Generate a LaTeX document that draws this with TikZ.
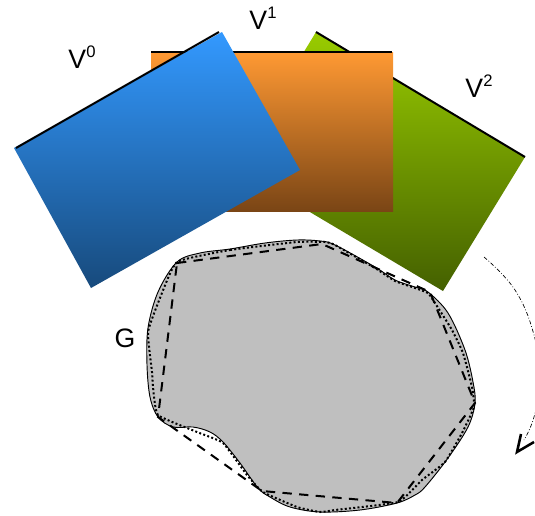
\documentclass[tikz,border=0pt]{standalone}
\usepackage{fontspec}
\setmainfont{Liberation Sans}
\definecolor{blueT}{HTML}{3399FF}
\definecolor{blueB}{HTML}{174A7C}
\definecolor{orangeT}{HTML}{FF9933}
\definecolor{orangeB}{HTML}{7A4515}
\definecolor{greenT}{HTML}{99CC00}
\definecolor{greenB}{HTML}{446000}
\newcommand{\vlabel}[1]{{\fontsize{20}{22}\selectfont V\raisebox{0.4em}{\fontsize{12.5}{13}\selectfont #1}}}
\tikzset{
  edgeline/.style={black,line width=1.5pt},
  blobline/.style={black,line width=0.7pt},
  dotline/.style={black,line width=1.5pt,dash pattern=on 1.5pt off 1.7pt},
  dashline/.style={black,line width=1.5pt,dash pattern=on 7pt off 5.5pt},
  lab/.style={inner sep=0pt,font=\fontsize{20}{22}\selectfont}
}
\begin{document}
\begin{tikzpicture}[x=0.75pt,y=-0.75pt]
\useasboundingbox (0,0) rectangle (535,515);
\clip (0,0) rectangle (535,515);
% green view
\shade[top color=greenT,bottom color=greenB] (316,32) -- (525,157) -- (443,291) -- (234,167) -- cycle;
\draw[edgeline] (316,32) -- (525,157);
% orange view
\shade[top color=orangeT,bottom color=orangeB] (151,52) rectangle (393,211);
\draw[edgeline] (151,51.5) -- (392,51.5);
% blue view
\shade[top color=blueT,bottom color=blueB] (222,32) -- (300,170) -- (91,288) -- (14,148) -- cycle;
\draw[edgeline] (16,148) -- (219,32);
% labels
\node[lab] (v0) at (82,57) {\vlabel{0}};
\node[lab] (v1) at (263,18) {\vlabel{1}};
\node[lab] (v2) at (479,86) {\vlabel{2}};
\node[lab] (g) at (125,338) {G};
% shape G
\draw[blobline,fill=black!25] plot[smooth cycle,tension=0.55] coordinates {
 (177,262) (200,253) (230,249) (265,243) (297,240) (320,241) (335,245) (375,267) (395,280)
 (415,287) (428,292) (448,313) (465,350) (473,382) (475,403) (468,427) (448,458)
 (425,487) (415,495) (397,503) (360,510) (320,512) (290,507) (270,497) (258,488)
 (240,463) (223,442) (210,432) (193,427) (173,427) (158,417) (150,397) (147,365)
 (148,328) (158,292)};
% dotted approximation
\draw[dotline] plot[smooth cycle,tension=0.25] coordinates {(177,262) (230,250) (297,242) (325,242) (335,245) (375,268) (395,281) (415,288) (428,293)
 (435,303) (452,330) (463,353) (472,387) (474,407) (462,433) (445,462) (422,480) (398,502)
 (335,510) (320,512) (297,507) (263,492) (247,475) (223,443) (197,432) (158,415)
 (153,387) (152,372) (148,332) (160,298)};
% dashed polygon
\draw[dashline] (177,263) -- (322,244) -- (430,292) -- (475,403) -- (397,503) -- (262,491) -- (158,417) -- cycle;
% rotation arc
\draw[black,line width=0.5pt,dash pattern=on 3pt off 1.5pt on 0.6pt off 1.5pt] plot[smooth,tension=0.7] coordinates {(484,257) (515,290) (534,335) (540,380) (534,417) (524,440)};
\draw[black,line width=1.9pt] (521,434) -- (517,452) -- (534,442);
\end{tikzpicture}
\end{document}
